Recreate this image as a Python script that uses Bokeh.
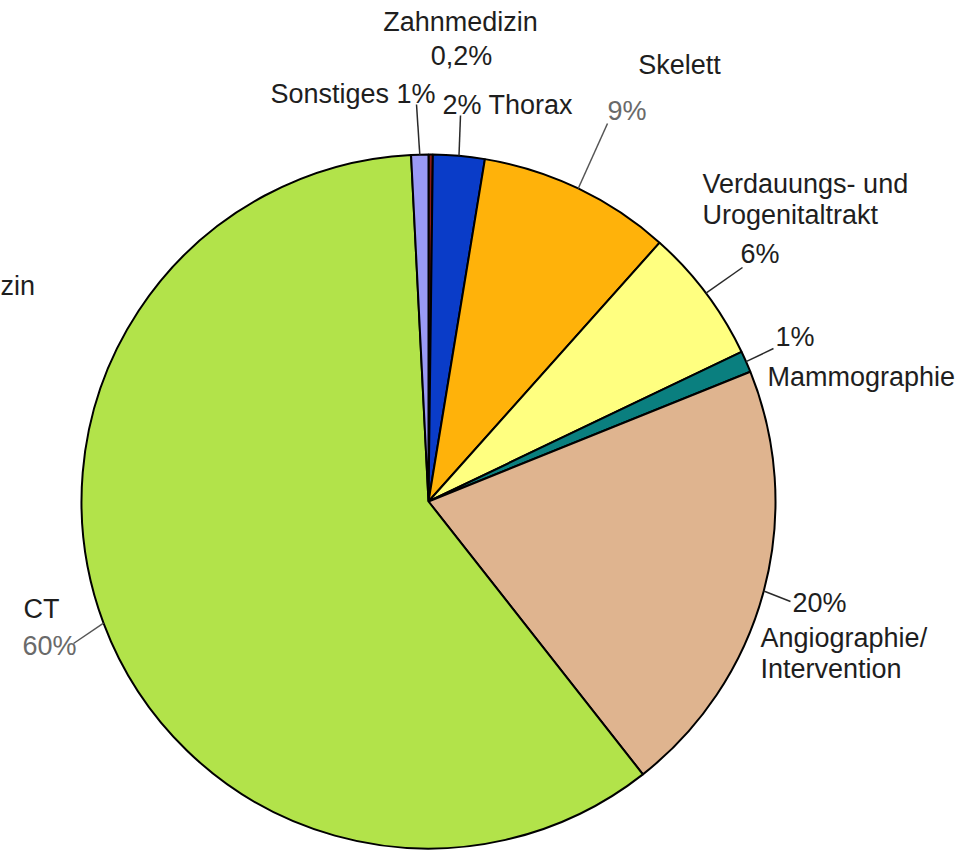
import math
from bokeh.plotting import figure
from bokeh.models import ColumnDataSource, Range1d
from bokeh.core.properties import value
from bokeh.embed import file_html
from bokeh.resources import INLINE

# ---- data (pie order, clockwise from 12 o'clock) ----
categories = ["Zahnmedizin", "Thorax", "Skelett", "Verdauungs- und Urogenitaltrakt",
              "Mammographie", "Angiographie/Intervention", "CT", "Sonstiges"]
shares = [0.2, 2.4, 9.0, 6.3, 1.0, 20.5, 59.8, 0.8]
pct_labels = ["0,2%", "2%", "9%", "6%", "1%", "20%", "60%", "1%"]
colors = ["#8B1A1A", "#0A3CC8", "#FFB20A", "#FFFF80", "#0A7F7F", "#DFB48F", "#B2E34A", "#9A9AF5"]

W, H = 974, 856
CX, CY_PX, R = 428, 501, 347
CY = H - CY_PX

total = sum(shares)
starts, ends, mids = [], [], []
cum = 0.0
for s in shares:
    a0 = cum / total * 2 * math.pi
    cum += s
    a1 = cum / total * 2 * math.pi
    starts.append(math.pi / 2 - a0)
    ends.append(math.pi / 2 - a1)
    mids.append((a0 + a1) / 2)

src = ColumnDataSource(dict(cat=categories, start=starts, end=ends, color=colors))

p = figure(width=W, height=H, x_range=Range1d(0, W), y_range=Range1d(0, H),
           min_border=0, x_axis_location=None, y_axis_location=None,
           toolbar_location=None, output_backend="svg")
p.grid.visible = False
p.outline_line_color = None
p.background_fill_color = "white"
p.border_fill_color = "white"

p.wedge(x=CX, y=CY, radius=R, start_angle="start", end_angle="end", direction="clock",
        fill_color="color", line_color="black", line_width=2, source=src)

# ---- leader lines: from slice edge (mid-angle) to label anchor (layout, px from top) ----
leader_end = {
    "Thorax": (460, 115),
    "Skelett": (607, 123),
    "Verdauungs- und Urogenitaltrakt": (742, 267),
    "Mammographie": (773, 348),
    "Angiographie/Intervention": (790, 601),
    "CT": (73, 643),
    "Sonstiges": (416, 104),
}
leader_color = {"Skelett": "#555555", "CT": "#555555"}
x0s, y0s, x1s, y1s, lcs = [], [], [], [], []
for cat, m in zip(categories, mids):
    if cat not in leader_end:
        continue
    ex, ey = leader_end[cat]
    x0s.append(CX + R * math.sin(m))
    y0s.append(CY + R * math.cos(m))
    x1s.append(ex)
    y1s.append(H - ey)
    lcs.append(leader_color.get(cat, "#2a2a2a"))
p.segment(x0=x0s, y0=y0s, x1=x1s, y1=y1s, line_color=lcs, line_width=1.5)

# ---- labels (layout: x px, y px from top, align, colour) ----
pct = dict(zip(categories, pct_labels))
DARK, GREY = "#1e1e1e", "#6a6a6a"
labels = [
    ("Zahnmedizin", 460, 21, "center", DARK),
    (pct["Zahnmedizin"], 461, 55, "center", DARK),
    ("Sonstiges " + pct["Sonstiges"], 435, 93, "right", DARK),
    (pct["Thorax"] + " Thorax", 442, 104, "left", DARK),
    ("Skelett", 679, 64, "center", DARK),
    (pct["Skelett"], 607, 110, "left", GREY),
    ("Verdauungs- und", 702, 183, "left", DARK),
    ("Urogenitaltrakt", 702, 214, "left", DARK),
    (pct["Verdauungs- und Urogenitaltrakt"], 740, 253, "left", DARK),
    (pct["Mammographie"], 775, 336, "left", DARK),
    ("Mammographie", 767, 376, "left", DARK),
    (pct["Angiographie/Intervention"], 792, 602, "left", DARK),
    ("Angiographie/", 760, 637, "left", DARK),
    ("Intervention", 760, 668, "left", DARK),
    ("CT", 23, 608, "left", DARK),
    (pct["CT"], 22, 645, "left", GREY),
    ("zin", 0, 285, "left", DARK),
]
for txt, x, y, al, col in labels:
    p.text(x=[x], y=[H - y], text=[txt], text_align=al, text_baseline="middle",
           text_font=value("Liberation Sans"), text_font_size="27px", text_color=col)

open("out.html", "w").write(file_html(p, INLINE))
